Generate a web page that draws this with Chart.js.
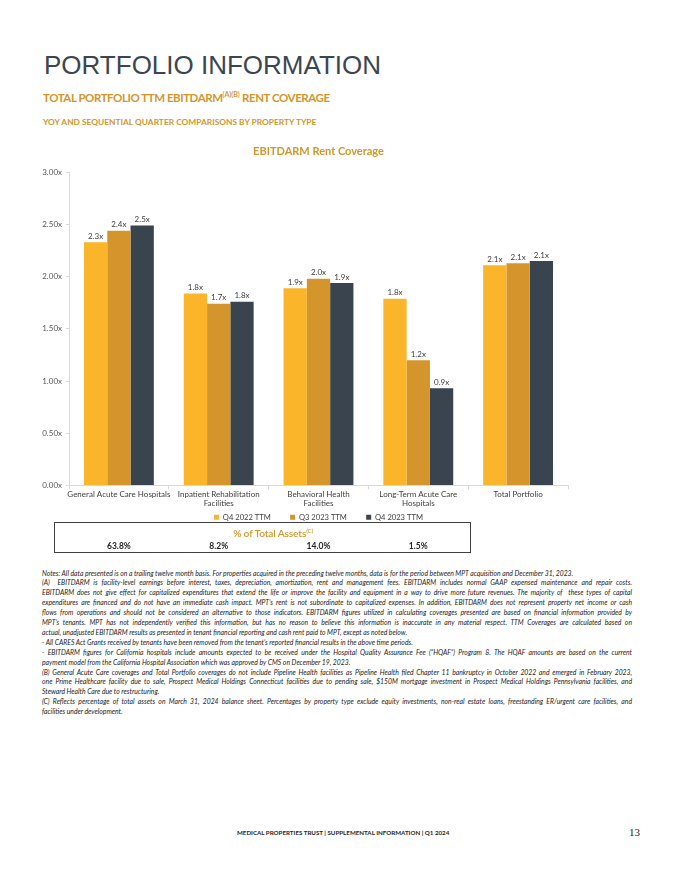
<!DOCTYPE html>
<html>
<head>
<meta charset="utf-8">
<script src="https://cdn.jsdelivr.net/npm/chart.js@4"></script>
<style>
  body { margin: 0; background: #fff; width: 680px; height: 880px; position: relative; overflow: hidden; font-family: Lato, sans-serif; }
  .abs { position: absolute; }
  #h1 { left: 44px; top: 50px; font-family: "Liberation Sans", Arial, sans-serif; font-size: 26px; color: #3b4650; }
  #h2 { left: 43px; top: 90px; font-size: 11.5px; font-weight: bold; color: #d4962b; letter-spacing: -0.45px; }
  #h2 sup { font-size: 7px; vertical-align: 5px; letter-spacing: 0; }
  #h3 { left: 43px; top: 117px; font-size: 8.4px; font-weight: bold; color: #d4962b; }
  #wrap { left: 0; top: 140px; width: 680px; height: 391px; }
  #box { left: 54px; top: 522px; width: 415px; height: 29px; border: 1px solid #404040; }
  #boxTitle { left: 0; top: 4px; width: 436px; text-align: center; font-size: 10.2px; font-weight: 600; color: #d4962b; letter-spacing: -0.15px; }
  #boxTitle sup { font-size: 6px; vertical-align: 4px; }
  .pct { top: 18px; font-size: 8.5px; font-weight: bold; color: #262626; transform: translateX(-50%); }
  #notes { left: 42px; top: 568.5px; width: 590px; font-size: 6.8px; font-style: italic; color: #222; line-height: 9.9px; }
  #notes div { white-space: nowrap; }
  #notes .j { text-align: justify; text-align-last: justify; }
  #foot { left: 237px; top: 829px; font-size: 6.2px; font-weight: bold; color: #262626; }
  #page { left: 629px; top: 826px; font-family: "Liberation Serif", serif; font-size: 11px; color: #262626; }
</style>
</head>
<body>
<div id="h1" class="abs">PORTFOLIO INFORMATION</div>
<div id="h2" class="abs">TOTAL PORTFOLIO TTM EBITDARM<sup>(A)(B)</sup> RENT COVERAGE</div>
<div id="h3" class="abs">YOY AND SEQUENTIAL QUARTER COMPARISONS BY PROPERTY TYPE</div>
<div id="wrap" class="abs"><canvas id="grafico"></canvas></div>
<div id="box" class="abs">
  <div id="boxTitle" class="abs">% of Total Assets<sup>(C)</sup></div>
</div>
<div id="notes" class="abs">
  <div>Notes: All data presented is on a trailing twelve month basis. For properties acquired in the preceding twelve months, data is for the period between MPT acquisition and December 31, 2023.</div>
  <div class="j">(A)&nbsp; EBITDARM is facility-level earnings before interest, taxes, depreciation, amortization, rent and management fees. EBITDARM includes normal GAAP expensed maintenance and repair costs.</div>
  <div class="j">EBITDARM does not give effect for capitalized expenditures that extend the life or improve the facility and equipment in a way to drive more future revenues. The majority of&nbsp; these types of capital</div>
  <div class="j">expenditures are financed and do not have an immediate cash impact. MPT’s rent is not subordinate to capitalized expenses. In addition, EBITDARM does not represent property net income or cash</div>
  <div class="j">flows from operations and should not be considered an alternative to those indicators. EBITDARM figures utilized in calculating coverages presented are based on financial information provided by</div>
  <div class="j">MPT’s tenants. MPT has not independently verified this information, but has no reason to believe this information is inaccurate in any material respect. TTM Coverages are calculated based on</div>
  <div>actual, unadjusted EBITDARM results as presented in tenant financial reporting and cash rent paid to MPT, except as noted below.</div>
  <div>- All CARES Act Grants received by tenants have been removed from the tenant’s reported financial results in the above time periods.</div>
  <div class="j">- EBITDARM figures for California hospitals include amounts expected to be received under the Hospital Quality Assurance Fee (“HQAF”) Program 8. The HQAF amounts are based on the current</div>
  <div>payment model from the California Hospital Association which was approved by CMS on December 19, 2023.</div>
  <div class="j">(B) General Acute Care coverages and Total Portfolio coverages do not include Pipeline Health facilities as Pipeline Health filed Chapter 11 bankruptcy in October 2022 and emerged in February 2023,</div>
  <div class="j">one Prime Healthcare facility due to sale, Prospect Medical Holdings Connecticut facilities due to pending sale, $150M mortgage investment in Prospect Medical Holdings Pennsylvania facilities, and</div>
  <div>Steward Health Care due to restructuring.</div>
  <div class="j">(C) Reflects percentage of total assets on March 31, 2024 balance sheet. Percentages by property type exclude equity investments, non-real estate loans, freestanding ER/urgent care facilities, and</div>
  <div>facilities under development.</div>
</div>
<div id="foot" class="abs">MEDICAL PROPERTIES TRUST | SUPPLEMENTAL INFORMATION | Q1 2024</div>
<div id="page" class="abs">13</div>

<script>
// categorias (tipo de imóvel)
const categorias = [
  'General Acute Care Hospitals',
  ['Inpatient Rehabilitation', 'Facilities'],
  ['Behavioral Health', 'Facilities'],
  ['Long-Term Acute Care', 'Hospitals'],
  'Total Portfolio'
];
// cobertura EBITDARM por período
const q4_2022 = [2.33, 1.84, 1.89, 1.79, 2.11];
const q3_2023 = [2.44, 1.74, 1.98, 1.20, 2.13];
const q4_2023 = [2.49, 1.76, 1.94, 0.93, 2.15];
const series = ['Q4 2022 TTM', 'Q3 2023 TTM', 'Q4 2023 TTM'];
// % dos ativos totais (só as 4 primeiras categorias)
const pctAtivos = ['63.8%', '8.2%', '14.0%', '1.5%'];
const yTicks = [0, 0.5, 1, 1.5, 2, 2.5, 3];

const cores = ['#fbb52b', '#d4962c', '#3a444e'];

// rótulos em cima das barras
const rotulos = {
  id: 'rotulos',
  afterDatasetsDraw(chart) {
    const ctx = chart.ctx;
    ctx.save();
    ctx.font = '8px Lato';
    ctx.fillStyle = '#404040';
    ctx.textAlign = 'center';
    ctx.textBaseline = 'bottom';
    chart.data.datasets.forEach((ds, i) => {
      chart.getDatasetMeta(i).data.forEach((bar, j) => {
        ctx.fillText(ds.data[j].toFixed(1) + 'x', bar.x, bar.y - 2);
      });
    });
    ctx.restore();
  }
};

const ctx = document.getElementById('grafico').getContext('2d');
const grafico = new Chart(ctx, {
  type: 'bar',
  data: {
    labels: categorias,
    datasets: [q4_2022, q3_2023, q4_2023].map((d, i) => ({
      label: series[i],
      data: d,
      backgroundColor: cores[i],
      borderWidth: 0,
      categoryPercentage: 0.7,
      barPercentage: 1
    }))
  },
  options: {
    responsive: true,
    maintainAspectRatio: false,
    animation: false,
    layout: { padding: { left: 20, right: 112, top: 0, bottom: 0 } },
    plugins: {
      title: {
        display: true,
        text: 'EBITDARM Rent Coverage',
        color: '#d4962b',
        fullSize: false,
        font: { family: 'Lato', size: 11, weight: 'bold' },
        padding: { top: 4.5, bottom: 14.7 }
      },
      legend: {
        position: 'bottom',
        fullSize: false,
        labels: {
          boxWidth: 5,
          boxHeight: 5,
          padding: 4,
          color: '#404040',
          font: { family: 'Lato', size: 7.6 },
          // espaço extra entre os itens da legenda
          generateLabels: chart => Chart.defaults.plugins.legend.labels.generateLabels(chart)
            .map((it, i, arr) => Object.assign(it, { text: i < arr.length - 1 ? it.text + '\u2003\u2003  ' : it.text }))
        }
      },
      tooltip: { enabled: false }
    },
    scales: {
      x: {
        grid: { drawOnChartArea: false, color: '#d9d9d9', tickLength: 4 },
        border: { color: '#d9d9d9' },
        ticks: {
          color: '#404040',
          padding: 1,
          maxRotation: 0,
          autoSkip: false,
          font: { family: 'Lato', size: 8, lineHeight: 1.1 }
        },
        afterFit: s => { s.height = 24; }
      },
      y: {
        min: 0,
        max: 3,
        grid: { drawOnChartArea: false, color: '#d9d9d9', tickLength: 3 },
        border: { color: '#d9d9d9' },
        afterBuildTicks: s => { s.ticks = yTicks.map(v => ({ value: v })); },
        ticks: {
          color: '#595959',
          padding: 4,
          font: { family: 'Lato', size: 8 },
          callback: v => v.toFixed(2) + 'x'
        },
        afterFit: s => { s.width = 49; }
      }
    }
  },
  plugins: [rotulos]
});

// valores de % dos ativos alinhados com as categorias
const box = document.getElementById('box');
pctAtivos.forEach((p, i) => {
  const el = document.createElement('div');
  el.className = 'abs pct';
  el.textContent = p;
  el.style.left = (grafico.scales.x.getPixelForValue(i) - 55) + 'px';
  box.appendChild(el);
});
</script>
</body>
</html>
